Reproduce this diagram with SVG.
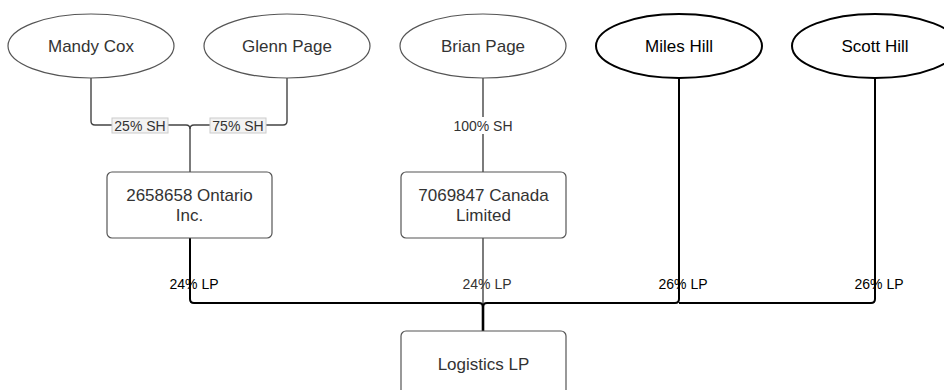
<svg xmlns="http://www.w3.org/2000/svg" width="944" height="390" viewBox="0 0 944 390">
<style>
.n{fill:#fff;stroke:#555;stroke-width:1.2}
.nb{fill:#fff;stroke:#000;stroke-width:2}
.t{font-family:"Liberation Sans",Arial,sans-serif;font-size:17px;fill:#333;text-anchor:middle;dominant-baseline:central}
.tb{fill:#000}
.g{fill:none;stroke:#444;stroke-width:1.4}
.k{fill:none;stroke:#000;stroke-width:2}
.l{font-family:"Liberation Sans",Arial,sans-serif;font-size:14px;fill:#333;text-anchor:middle;dominant-baseline:central}
.lb{fill:#000}
.bg{fill:#f2f2f2;stroke:#ccc;stroke-width:1}
</style>
<rect width="944" height="390" fill="#fff"/>
<g id="connectors">
<path class="g" d="M91 78 V121 Q91 125 95 125 H186 Q190 125 190 129 V172"/>
<path class="g" d="M287 78 V121 Q287 125 283 125 H194 Q190 125 190 129"/>
<path class="g" d="M483 78 V172"/>
<path class="k" d="M190 238 V299 Q190 303 194 303 H479 Q483 303 483 307"/>
<path class="g" d="M483 238 V303"/>
<path class="k" d="M679 78 V299 Q679 303 675 303 H487 Q483 303 483 307 V331"/>
<path class="k" d="M875 78 V299 Q875 303 871 303 H679"/>
<path d="M483 305 V331" stroke="#000" stroke-width="2.6" fill="none"/>
<rect class="bg" x="112" y="118" width="56" height="15"/>
<text class="l" x="140" y="126">25% SH</text>
<rect class="bg" x="210" y="118" width="56" height="15"/>
<text class="l" x="238" y="126">75% SH</text>
<rect x="451" y="117" width="64" height="17" fill="#fff"/>
<text class="l" x="483" y="126">100% SH</text>
<text class="l lb" x="194" y="284">24% LP</text>
<text class="l" x="487" y="284">24% LP</text>
<text class="l lb" x="683" y="284">26% LP</text>
<text class="l lb" x="879" y="284">26% LP</text>
</g>
<g id="mandy-cox"><ellipse class="n" cx="91" cy="46" rx="83" ry="32"/><text class="t" x="91" y="46">Mandy Cox</text></g>
<g id="glenn-page"><ellipse class="n" cx="287" cy="46" rx="83" ry="32"/><text class="t" x="287" y="46">Glenn Page</text></g>
<g id="brian-page"><ellipse class="n" cx="483" cy="46" rx="83" ry="32"/><text class="t" x="483" y="46">Brian Page</text></g>
<g id="miles-hill"><ellipse class="nb" cx="679" cy="46" rx="83" ry="32"/><text class="t tb" x="679" y="46">Miles Hill</text></g>
<g id="scott-hill"><ellipse class="nb" cx="875" cy="46" rx="83" ry="32"/><text class="t tb" x="875" y="46">Scott Hill</text></g>
<g id="ontario"><rect class="n" x="107" y="172" width="165" height="66" rx="5"/><text class="t" x="189.5" y="195.5">2658658 Ontario</text><text class="t" x="189.5" y="215">Inc.</text></g>
<g id="canada"><rect class="n" x="401" y="172" width="165" height="66" rx="5"/><text class="t" x="483.5" y="195.5">7069847 Canada</text><text class="t" x="483.5" y="215">Limited</text></g>
<g id="logistics"><rect class="n" x="401" y="331" width="165" height="66" rx="5"/><text class="t" x="483.5" y="364">Logistics LP</text></g>
</svg>
